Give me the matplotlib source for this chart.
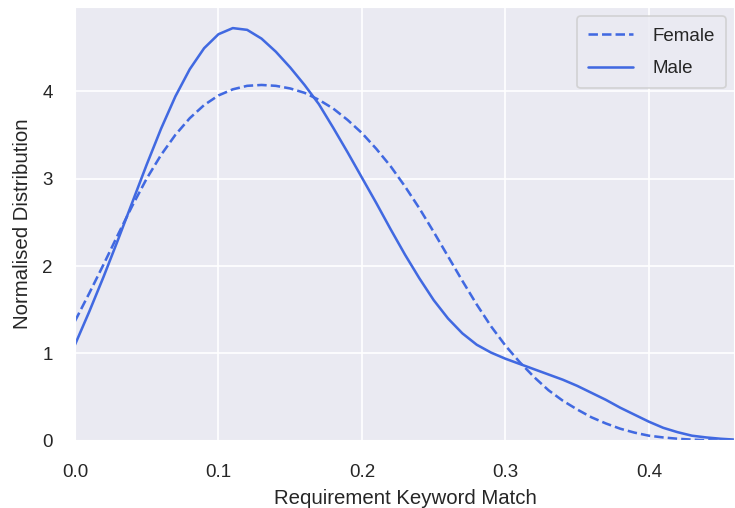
import matplotlib
matplotlib.use("Agg")
import matplotlib.pyplot as plt
import seaborn as sns

# keyword-match density, sampled every 0.01
match = [0.00, 0.01, 0.02, 0.03, 0.04, 0.05, 0.06, 0.07, 0.08, 0.09,
         0.10, 0.11, 0.12, 0.13, 0.14, 0.15, 0.16, 0.17, 0.18, 0.19,
         0.20, 0.21, 0.22, 0.23, 0.24, 0.25, 0.26, 0.27, 0.28, 0.29,
         0.30, 0.31, 0.32, 0.33, 0.34, 0.35, 0.36, 0.37, 0.38, 0.39,
         0.40, 0.41, 0.42, 0.43, 0.44, 0.45, 0.46]

female = [1.37, 1.69, 2.02, 2.36, 2.69, 3.00, 3.27, 3.50, 3.69, 3.84,
          3.95, 4.02, 4.06, 4.07, 4.06, 4.03, 3.98, 3.90, 3.80, 3.67,
          3.52, 3.34, 3.14, 2.91, 2.66, 2.39, 2.11, 1.83, 1.56, 1.31,
          1.09, 0.90, 0.73, 0.58, 0.46, 0.36, 0.27, 0.20, 0.14, 0.095,
          0.06, 0.04, 0.025, 0.015, 0.008, 0.005, 0.003]

male = [1.10, 1.48, 1.88, 2.30, 2.73, 3.16, 3.57, 3.94, 4.25, 4.49,
        4.65, 4.72, 4.70, 4.60, 4.45, 4.27, 4.07, 3.85, 3.58, 3.30,
        3.01, 2.72, 2.42, 2.13, 1.86, 1.61, 1.40, 1.23, 1.10, 1.01,
        0.94, 0.88, 0.82, 0.76, 0.70, 0.63, 0.55, 0.47, 0.38, 0.30,
        0.22, 0.15, 0.10, 0.06, 0.04, 0.025, 0.015]

sns.set_theme(style="darkgrid")
plt.rcParams['font.family'] = ['Liberation Sans', 'DejaVu Sans']

fig = plt.figure(figsize=(6, 508 / 122.5), dpi=122.5)
ax = fig.add_axes([0.102, 0.132, 0.898, 0.854])

ax.plot(match, female, color="royalblue", linestyle="--", label="Female")
ax.plot(match, male, color="royalblue", linestyle="-", label="Male")

ax.set_xlim(0, 0.46)
ax.set_ylim(0, 4.96)
ax.set_xticks([0.0, 0.1, 0.2, 0.3, 0.4])
ax.set_yticks([0, 1, 2, 3, 4])
ax.tick_params(axis="x", pad=7.5)
ax.tick_params(axis="y", pad=7)
ax.set_xlabel("Requirement Keyword Match", labelpad=5)
ax.set_ylabel("Normalised Distribution", labelpad=6)
ax.legend(loc="upper right", labelspacing=0.82, borderpad=0.6,
          handlelength=2.4, handletextpad=1.0)

fig.savefig("out.png", dpi=122.5)
